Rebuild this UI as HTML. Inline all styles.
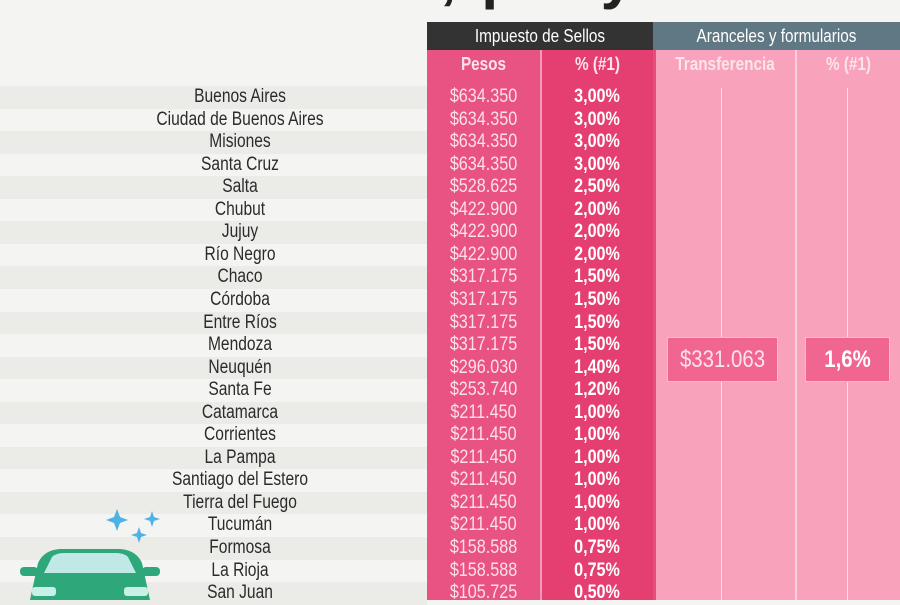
<!DOCTYPE html>
<html><head><meta charset="utf-8"><style>
body{margin:0;width:900px;height:600px;overflow:hidden;background:#f4f4f2;position:relative;font-family:"Liberation Sans",sans-serif;}
.a{position:absolute;}
.row{position:absolute;left:0;width:900px;height:22.6px;line-height:22.6px;font-size:19px;}
.name{position:absolute;left:100px;width:280px;text-align:center;color:#2b2b2b;transform:scaleX(0.82);}
.p{position:absolute;left:427px;width:113px;text-align:center;color:#fbe0e8;transform:scaleX(0.85);}
.q{position:absolute;left:541px;width:112px;text-align:center;color:#fff;font-weight:bold;transform:scaleX(0.85);}
.c{transform:scaleX(0.85);}
</style></head><body>
<div class="a" style="left:440px;top:-58px;font-size:60px;font-weight:bold;color:#222;letter-spacing:4px">, p a y</div>
<div class="a" style="left:427px;top:22px;width:226px;height:28px;background:#333"></div>
<div class="a" style="left:653px;top:22px;width:247px;height:28px;background:#607884"></div>
<div class="a c" style="left:427px;top:22px;width:226px;line-height:28px;text-align:center;color:#fff;font-size:18px">Impuesto de Sellos</div>
<div class="a c" style="left:653px;top:22px;width:247px;line-height:28px;text-align:center;color:#fff;font-size:18px">Aranceles y formularios</div>
<div class="a" style="left:427px;top:50px;width:113px;height:550px;background:#e95383"></div>
<div class="a" style="left:540px;top:50px;width:2px;height:550px;background:#f39ab6"></div>
<div class="a" style="left:542px;top:50px;width:111px;height:550px;background:#e43f70"></div>
<div class="a" style="left:653px;top:50px;width:247px;height:550px;background:#f9a2bb"></div>
<div class="a" style="left:653px;top:50px;width:3px;height:550px;background:#e4507c"></div>
<div class="a" style="left:795px;top:50px;width:2px;height:550px;background:#fcd0dc"></div>
<div class="a" style="left:721px;top:88px;width:1px;height:512px;background:#fde0e8"></div>
<div class="a" style="left:847px;top:88px;width:1px;height:512px;background:#fde0e8"></div>
<div class="a c" style="left:427px;top:54px;width:113px;text-align:center;color:#fde4ec;font-size:18px;font-weight:bold">Pesos</div>
<div class="a c" style="left:542px;top:54px;width:111px;text-align:center;color:#fde4ec;font-size:18px;font-weight:bold">% (#1)</div>
<div class="a c" style="left:655px;top:54px;width:140px;text-align:center;color:#fde4ec;font-size:18px;font-weight:bold">Transferencia</div>
<div class="a c" style="left:797px;top:54px;width:103px;text-align:center;color:#fde4ec;font-size:18px;font-weight:bold">% (#1)</div>
<div class="a" style="left:667px;top:337px;width:111px;height:45px;background:#f06691;border:1px solid #fbb8cb;box-sizing:border-box;color:#fde4ec;font-size:24px;line-height:43px;text-align:center"><div class="c">$331.063</div></div>
<div class="a" style="left:805px;top:337px;width:85px;height:45px;background:#f06691;border:1px solid #fbb8cb;box-sizing:border-box;color:#fff;font-weight:bold;font-size:24px;line-height:43px;text-align:center"><div class="c">1,6%</div></div>
<div id="rows"></div>
<svg class="a" style="left:0;top:505px" width="170" height="95">
<path d="M117 4 l3 8 8 3 -8 3 -3 8 -3 -8 -8 -3 8 -3z" fill="#4db3e6"/>
<path d="M152 6 l2 6 6 2 -6 2 -2 6 -2 -6 -6 -2 6 -2z" fill="#4db3e6"/>
<path d="M139 22 l2 6 6 2 -6 2 -2 6 -2 -6 -6 -2 6 -2z" fill="#4db3e6"/>
<path d="M30 95 L38 58 Q44 45 60 44 L120 44 Q136 45 142 58 L150 95z" fill="#2ea77a"/>
<path d="M44 68 L52 52 Q56 48 64 48 L116 48 Q124 48 128 52 L136 68z" fill="#bfe8e6"/>
<rect x="20" y="62" width="18" height="9" rx="4" fill="#2ea77a"/><rect x="142" y="62" width="18" height="9" rx="4" fill="#2ea77a"/>
<rect x="32" y="82" width="24" height="9" rx="3" fill="#c9efe9"/><rect x="124" y="82" width="24" height="9" rx="3" fill="#c9efe9"/>
</svg>
<script>
var d=[["Buenos Aires","$634.350","3,00%"],["Ciudad de Buenos Aires","$634.350","3,00%"],["Misiones","$634.350","3,00%"],["Santa Cruz","$634.350","3,00%"],["Salta","$528.625","2,50%"],["Chubut","$422.900","2,00%"],["Jujuy","$422.900","2,00%"],["Río Negro","$422.900","2,00%"],["Chaco","$317.175","1,50%"],["Córdoba","$317.175","1,50%"],["Entre Ríos","$317.175","1,50%"],["Mendoza","$317.175","1,50%"],["Neuquén","$296.030","1,40%"],["Santa Fe","$253.740","1,20%"],["Catamarca","$211.450","1,00%"],["Corrientes","$211.450","1,00%"],["La Pampa","$211.450","1,00%"],["Santiago del Estero","$211.450","1,00%"],["Tierra del Fuego","$211.450","1,00%"],["Tucumán","$211.450","1,00%"],["Formosa","$158.588","0,75%"],["La Rioja","$158.588","0,75%"],["San Juan","$105.725","0,50%"]];
var h="";for(var i=0;i<d.length;i++){var t=86+i*22.55;
h+='<div class="a" style="left:0;top:'+t+'px;width:427px;height:22.6px;background:'+(i%2?'#f4f4f2':'#ebebe8')+'"></div>';
h+='<div class="row" style="top:'+t+'px"><span class="name">'+d[i][0]+'</span><span class="p">'+d[i][1]+'</span><span class="q">'+d[i][2]+'</span></div>';}
document.getElementById("rows").innerHTML=h;
</script>
</body></html>
